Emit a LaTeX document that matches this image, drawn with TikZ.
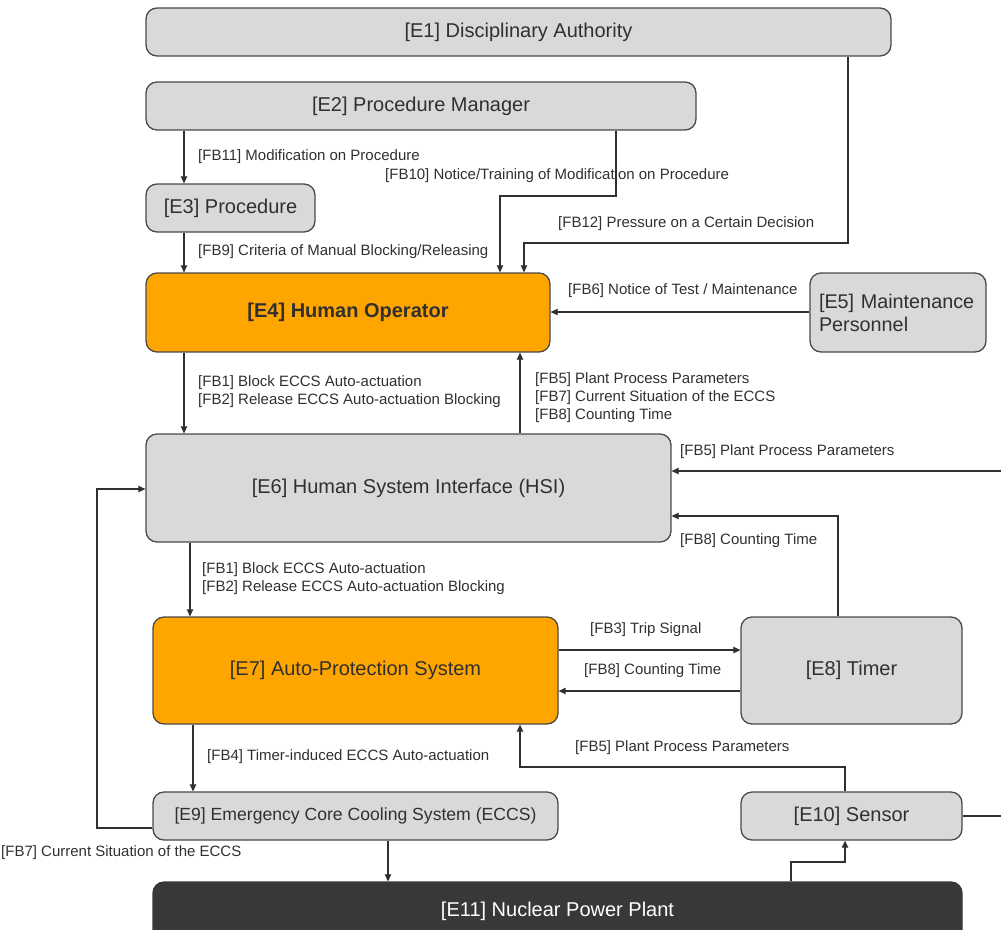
\documentclass[tikz,border=0pt]{standalone}
\usepackage{fontspec}
\setmainfont{Liberation Sans}
\usetikzlibrary{arrows.meta}
\definecolor{boxgray}{HTML}{D9D9D9}
\definecolor{edgegray}{HTML}{4A4A4A}
\definecolor{apsorange}{HTML}{FFA500}
\definecolor{plantdark}{HTML}{383838}
\definecolor{txt}{HTML}{303030}
\tikzset{
  ent/.style={draw=edgegray, line width=1.3pt, rounded corners=11pt, fill=boxgray,
    text=txt, font=\fontsize{20}{24}\selectfont, inner sep=0pt},
  hot/.style={ent, fill=apsorange},
  plant/.style={ent, fill=plantdark, draw=plantdark, text=white},
  flow/.style={draw=txt, line width=1.1pt, -{Triangle[length=7pt,width=6.5pt]}},
  link/.style={draw=txt, line width=1.1pt},
  lbl/.style={anchor=west, inner sep=0pt, text=txt, align=left, yshift=-1.5pt,
    font=\fontsize{15}{17.8}\selectfont},
}
\begin{document}
\begin{tikzpicture}[x=1pt, y=-1pt]
\useasboundingbox (0,0) rectangle (1001,929);
\clip (0,0) rectangle (1001,929);

% entities
\node[ent, minimum width=745pt, minimum height=48pt] (e1) at (518.5,32) {[E1] Disciplinary Authority};
\node[ent, minimum width=550pt, minimum height=48pt] (e2) at (421,106) {[E2] Procedure Manager};
\node[ent, minimum width=169pt, minimum height=48pt] (e3) at (230.5,208) {[E3] Procedure};
\node[hot, minimum width=404pt, minimum height=79pt, font=\fontsize{20}{24}\selectfont\bfseries] (e4) at (348,312.5) {[E4] Human Operator};
\node[ent, minimum width=176pt, minimum height=79pt, align=left, text width=158pt, font=\fontsize{19.8}{23}\selectfont] (e5) at (898,312.5) {[E5] Maintenance\\Personnel};
\node[ent, minimum width=525pt, minimum height=108pt] (e6) at (408.5,488) {[E6] Human System Interface (HSI)};
\node[hot, minimum width=405pt, minimum height=107pt] (e7) at (355.5,670.5) {[E7] Auto-Protection System};
\node[ent, minimum width=221pt, minimum height=107pt] (e8) at (851.5,670.5) {[E8] Timer};
\node[ent, minimum width=405pt, minimum height=48pt, font=\fontsize{17.6}{21}\selectfont] (e9) at (355.5,816) {[E9] Emergency Core Cooling System (ECCS)};
\node[ent, minimum width=221pt, minimum height=48pt] (e10) at (851.5,816) {[E10] Sensor};
\node[plant, minimum width=809pt, minimum height=64pt, text depth=0pt] (e11) at (557.5,914) {\raisebox{10pt}{[E11] Nuclear Power Plant}};

% routing columns and rows
\coordinate (c184) at (184,0);
\coordinate (c190) at (190,0);
\coordinate (c193) at (193,0);
\coordinate (c500) at (500,0);
\coordinate (c524) at (524,0);
\coordinate (c616) at (616,0);
\coordinate (c848) at (848,0);
\coordinate (c520) at (520,0);
\coordinate (c838) at (838,0);
\coordinate (c845) at (845,0);
\coordinate (c388) at (388,0);
\coordinate (c791) at (791,0);
\coordinate (c97) at (97,0);
\coordinate (r196) at (0,196);
\coordinate (r243) at (0,243);
\coordinate (r312) at (0,312);
\coordinate (r471) at (0,471);
\coordinate (r516) at (0,516);
\coordinate (r489) at (0,489);
\coordinate (r650) at (0,650);
\coordinate (r691) at (0,691);
\coordinate (r767) at (0,767);
\coordinate (r828) at (0,828);
\coordinate (r862) at (0,862);
\coordinate (r816) at (0,816);
\coordinate (ext) at (1010,0);

% feedback connectors
\path[flow] (e2.south -| c184) -- (e3.north -| c184);
\path[flow] (e2.south -| c616) |- (r196 -| c500) -- (e4.north -| c500);
\path[flow] (e1.south -| c848) |- (r243 -| c524) -- (e4.north -| c524);
\path[flow] (e3.south -| c184) -- (e4.north -| c184);
\path[flow] (e5.west |- r312) -- (e4.east |- r312);
\path[flow] (e4.south -| c184) -- (e6.north -| c184);
\path[flow] (e6.north -| c520) -- (e4.south -| c520);
\path[flow] (ext |- r471) -- (e6.east |- r471);
\path[flow] (e8.north -| c838) |- (e6.east |- r516);
\path[flow] (e6.south -| c190) -- (e7.north -| c190);
\path[flow] (e7.east |- r650) -- (e8.west |- r650);
\path[flow] (e8.west |- r691) -- (e7.east |- r691);
\path[flow] (e10.north -| c845) |- (r767 -| c520) -- (e7.south -| c520);
\path[flow] (e7.south -| c193) -- (e9.north -| c193);
\path[flow] (e9.west |- r828) -| (c97 |- r489) -- (e6.west |- r489);
\path[flow] (e9.south -| c388) -- (e11.north -| c388);
\path[flow] (e11.north -| c791) |- (r862 -| c845) -- (e10.south -| c845);
\path[link] (e10.east |- r816) -- (ext |- r816);

% connector labels
\node[lbl] (l11) at (198,155) {[FB11] Modification on Procedure};
\node[lbl] (l10) at (385,174) {[FB10] Notice/Training of Modification on Procedure};
\node[lbl] (l12) at (558,222) {[FB12] Pressure on a Certain Decision};
\node[lbl] (l9) at (198,250) {[FB9] Criteria of Manual Blocking/Releasing};
\node[lbl] (l6) at (568,289) {[FB6] Notice of Test / Maintenance};
\node[lbl] (l12a) at (198,390) {[FB1] Block ECCS Auto-actuation\\{}[FB2] Release ECCS Auto-actuation Blocking};
\node[lbl] (l578) at (535,396) {[FB5] Plant Process Parameters\\{}[FB7] Current Situation of the ECCS\\{}[FB8] Counting Time};
\node[lbl] (l5a) at (680,450) {[FB5] Plant Process Parameters};
\node[lbl] (l8a) at (680,539) {[FB8] Counting Time};
\node[lbl] (l12b) at (202,577) {[FB1] Block ECCS Auto-actuation\\{}[FB2] Release ECCS Auto-actuation Blocking};
\node[lbl] (l3) at (590,628) {[FB3] Trip Signal};
\node[lbl] (l8b) at (584,669) {[FB8] Counting Time};
\node[lbl] (l5b) at (575,746) {[FB5] Plant Process Parameters};
\node[lbl] (l4) at (207,755) {[FB4] Timer-induced ECCS Auto-actuation};
\node[lbl] (l7) at (1,851) {[FB7] Current Situation of the ECCS};
\end{tikzpicture}
\end{document}
